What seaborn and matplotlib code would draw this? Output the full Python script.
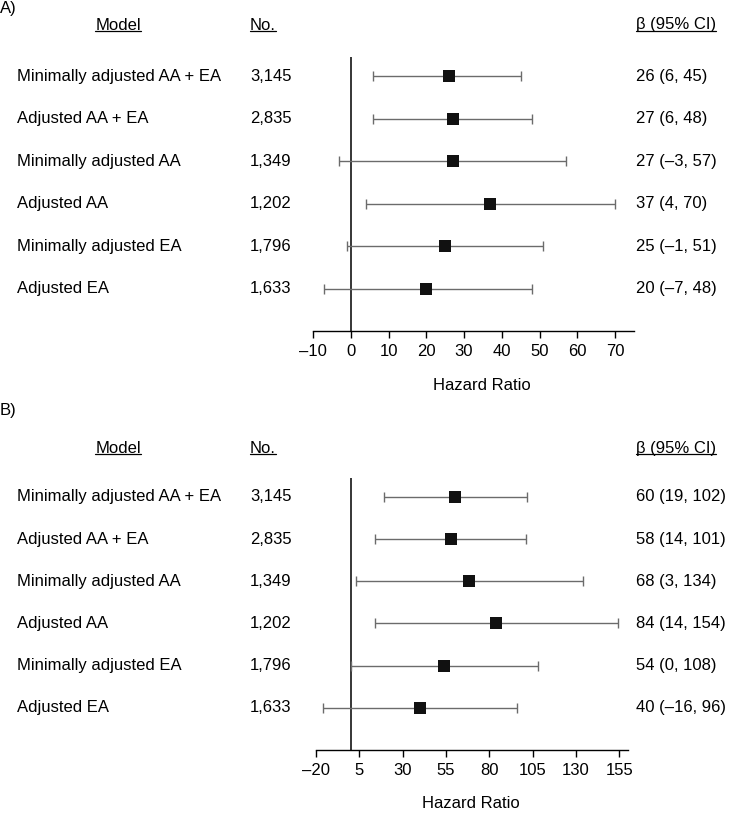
import matplotlib
matplotlib.use("Agg")
import matplotlib.pyplot as plt
import matplotlib.transforms as mtransforms
from matplotlib.lines import Line2D
import seaborn as sns
import pandas as pd

sns.set_theme(style="white")
plt.rcParams['font.family'] = ['Liberation Sans', 'DejaVu Sans']
plt.rcParams['text.color'] = 'black'
plt.rcParams['xtick.color'] = 'black'
plt.rcParams['axes.labelcolor'] = 'black'

models = ["Minimally adjusted AA + EA", "Adjusted AA + EA", "Minimally adjusted AA",
          "Adjusted AA", "Minimally adjusted EA", "Adjusted EA"]
counts = ["3,145", "2,835", "1,349", "1,202", "1,796", "1,633"]

est_a = [26, 27, 27, 37, 25, 20]
lo_a = [6, 6, -3, 4, -1, -7]
hi_a = [45, 48, 57, 70, 51, 48]
ci_a = ["26 (6, 45)", "27 (6, 48)", "27 (\u20133, 57)", "37 (4, 70)", "25 (\u20131, 51)", "20 (\u20137, 48)"]
ticks_a = [-10, 0, 10, 20, 30, 40, 50, 60, 70]

est_b = [60, 58, 68, 84, 54, 40]
lo_b = [19, 14, 3, 14, 0, -16]
hi_b = [102, 101, 134, 154, 108, 96]
ci_b = ["60 (19, 102)", "58 (14, 101)", "68 (3, 134)", "84 (14, 154)", "54 (0, 108)", "40 (\u201316, 96)"]
ticks_b = [-20, 5, 30, 55, 80, 105, 130, 155]

W, H = 753, 813
fig = plt.figure(figsize=(W / 100, H / 100), dpi=100)

FS = 12
GREY = "#6b6b6b"


def fx(px):
    return px / W


def fy(py):
    return 1 - py / H


def panel(letter, letter_y, header_y, top_px, bottom_px, left_px, right_px, xlim, ticks,
          est, lo, hi, ci, xlabel_x):
    ax = fig.add_axes([fx(left_px), fy(bottom_px), (right_px - left_px) / W,
                       (bottom_px - top_px) / H])
    rows = list(range(1, len(models) + 1))
    df = pd.DataFrame({"est": est, "lo": lo, "hi": hi, "row": rows})
    ax.errorbar(df["est"], df["row"],
                xerr=[df["est"] - df["lo"], df["hi"] - df["est"]],
                fmt="none", ecolor=GREY, elinewidth=1.0, capsize=3.5, capthick=1.0, zorder=2)
    sns.scatterplot(data=df, x="est", y="row", marker="s", s=70, color="#111111",
                    edgecolor="#111111", linewidth=0, ax=ax, zorder=3, legend=False)
    ax.axvline(0, color="black", lw=1.1, zorder=1)
    ax.set_xlim(*xlim)
    ax.set_ylim(7, 0.55)
    ax.set_xticks(ticks)
    ax.set_xticklabels([str(t).replace("-", "\u2013") for t in ticks], fontsize=FS)
    ax.set_yticks([])
    ax.set_ylabel("")
    ax.set_xlabel("Hazard Ratio", fontsize=FS)
    ax.xaxis.set_label_coords(xlabel_x, -0.17)
    for s in ["top", "right", "left"]:
        ax.spines[s].set_visible(False)
    ax.spines["bottom"].set_color("black")
    ax.spines["bottom"].set_linewidth(1.0)
    ax.tick_params(axis="x", direction="out", length=5, width=1, color="black",
                   bottom=True, pad=4)
    ax.set_facecolor("none")

    tr = mtransforms.blended_transform_factory(fig.transFigure, ax.transData)
    for r, m, c, t in zip(rows, models, counts, ci):
        ax.text(fx(17), r, m, transform=tr, fontsize=FS, va="center", ha="left", clip_on=False)
        ax.text(fx(250), r, c, transform=tr, fontsize=FS, va="center", ha="left", clip_on=False)
        ax.text(fx(636), r, t, transform=tr, fontsize=FS, va="center", ha="left", clip_on=False)

    fig.text(fx(0), fy(letter_y), letter, fontsize=FS, va="center", ha="left")
    hy = fy(header_y)
    headers = [
        fig.text(fx(118), hy, "Model", fontsize=FS, va="center", ha="center"),
        fig.text(fx(250), hy, "No.", fontsize=FS, va="center", ha="left"),
        fig.text(fx(636), hy, "\u03b2 (95% CI)", fontsize=FS, va="center", ha="left"),
    ]
    return ax, headers


axA, hA = panel("A)", 9, 25, 57, 331, 313, 634, (-10, 75), ticks_a, est_a, lo_a, hi_a, ci_a, 0.526)
axB, hB = panel("B)", 410, 448, 478, 750, 316, 628, (-20, 160), ticks_b, est_b, lo_b, hi_b, ci_b, 0.497)

fig.canvas.draw()
renderer = fig.canvas.get_renderer()
for t in hA + hB:
    bb = t.get_window_extent(renderer)
    x0, x1 = bb.x0 / fig.bbox.width, bb.x1 / fig.bbox.width
    y = (bb.y0 + 1) / fig.bbox.height
    fig.add_artist(Line2D([x0, x1], [y, y], transform=fig.transFigure, color="black", lw=0.9))

fig.savefig("out.png", dpi=100)
